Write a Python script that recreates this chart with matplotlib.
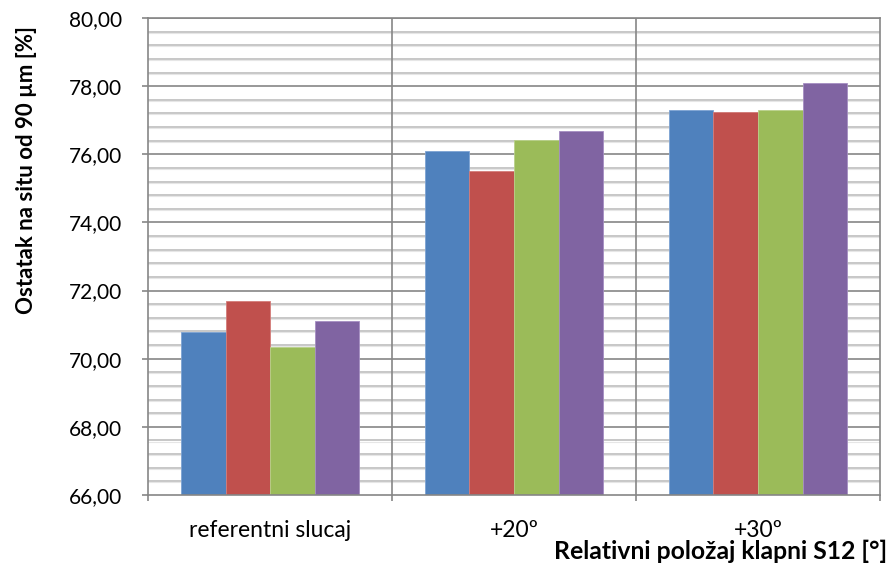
import matplotlib
matplotlib.use("Agg")
import matplotlib.pyplot as plt
import numpy as np
from matplotlib.ticker import FixedLocator, NullFormatter

plt.rcParams['font.family'] = ['Lato', 'DejaVu Sans']

categories = ["referentni slucaj", "+20º", "+30º"]
series_1 = [70.77, 76.11, 77.30]
series_2 = [71.70, 75.52, 77.24]
series_3 = [70.33, 76.43, 77.29]
series_4 = [71.12, 76.67, 78.08]
colors = ["#4F81BD", "#C0504D", "#9BBB59", "#8064A2"]
edge_colors = ["#7DA3D3", "#D47C79", "#B9D18A", "#A58EC2"]

fig = plt.figure(figsize=(8.92, 5.71), dpi=100)
ax = fig.add_axes([0.166, 0.1331, 0.8205, 0.8354])

n = len(categories)
x = np.arange(n)
bw = 0.1825
series = [series_1, series_2, series_3, series_4]
for i, vals in enumerate(series):
    offs = (i - 1.5) * bw
    ax.bar(x + offs, np.array(vals) - 66, bottom=66, width=bw, color=colors[i],
           edgecolor=edge_colors[i], linewidth=0.6, zorder=3)

ax.set_ylim(66, 80)
ax.set_xlim(-0.5, n - 0.5)

yticks = np.arange(66, 80.01, 2)
ax.set_yticks(yticks)
ax.set_yticklabels([f"{v:.2f}".replace(".", ",") for v in yticks])

# horizontal grid: minor light, major darker
for yv in np.arange(66, 80.001, 0.4):
    if abs(round(yv / 2) * 2 - yv) < 1e-6:
        continue
    ax.axhline(yv, color="#BEBEBE", linewidth=1.2, zorder=1)
    ax.axhline(yv - 0.03, color="#E6E6E6", linewidth=0.8, zorder=1)
for yv in np.arange(68, 80.001, 2):
    ax.axhline(yv, color="#868686", linewidth=1.2, zorder=1)

# vertical separators between categories
for xv in np.arange(0.5, n - 0.6, 1):
    ax.axvline(xv, color="#868686", linewidth=1.2, zorder=1)

ax.xaxis.set_major_locator(FixedLocator(np.arange(-0.5, n, 1)))
ax.xaxis.set_major_formatter(NullFormatter())
ax.set_xticks(x, minor=True)
ax.set_xticklabels(categories, minor=True, fontsize=16.5)
ax.tick_params(axis="x", which="minor", length=0, pad=18)
ax.tick_params(axis="x", which="major", length=4.5, color="#868686", width=1.2)
ax.tick_params(axis="y", which="major", length=4, color="#868686", width=1.2,
               labelsize=15, pad=15)

for s in ax.spines.values():
    s.set_color("#868686")
    s.set_linewidth(1.2)
    s.set_zorder(4)

fig.text(0.030, 0.702, "Ostatak na situ od 90 µm [%]", rotation=90, ha="center", va="center",
         fontsize=16, fontweight="bold")
fig.text(0.995, 0.021, "Relativni položaj klapni S12 [°]", ha="right", va="baseline",
         fontsize=17.8, fontweight="bold")

fig.savefig("out.png", dpi=100)
